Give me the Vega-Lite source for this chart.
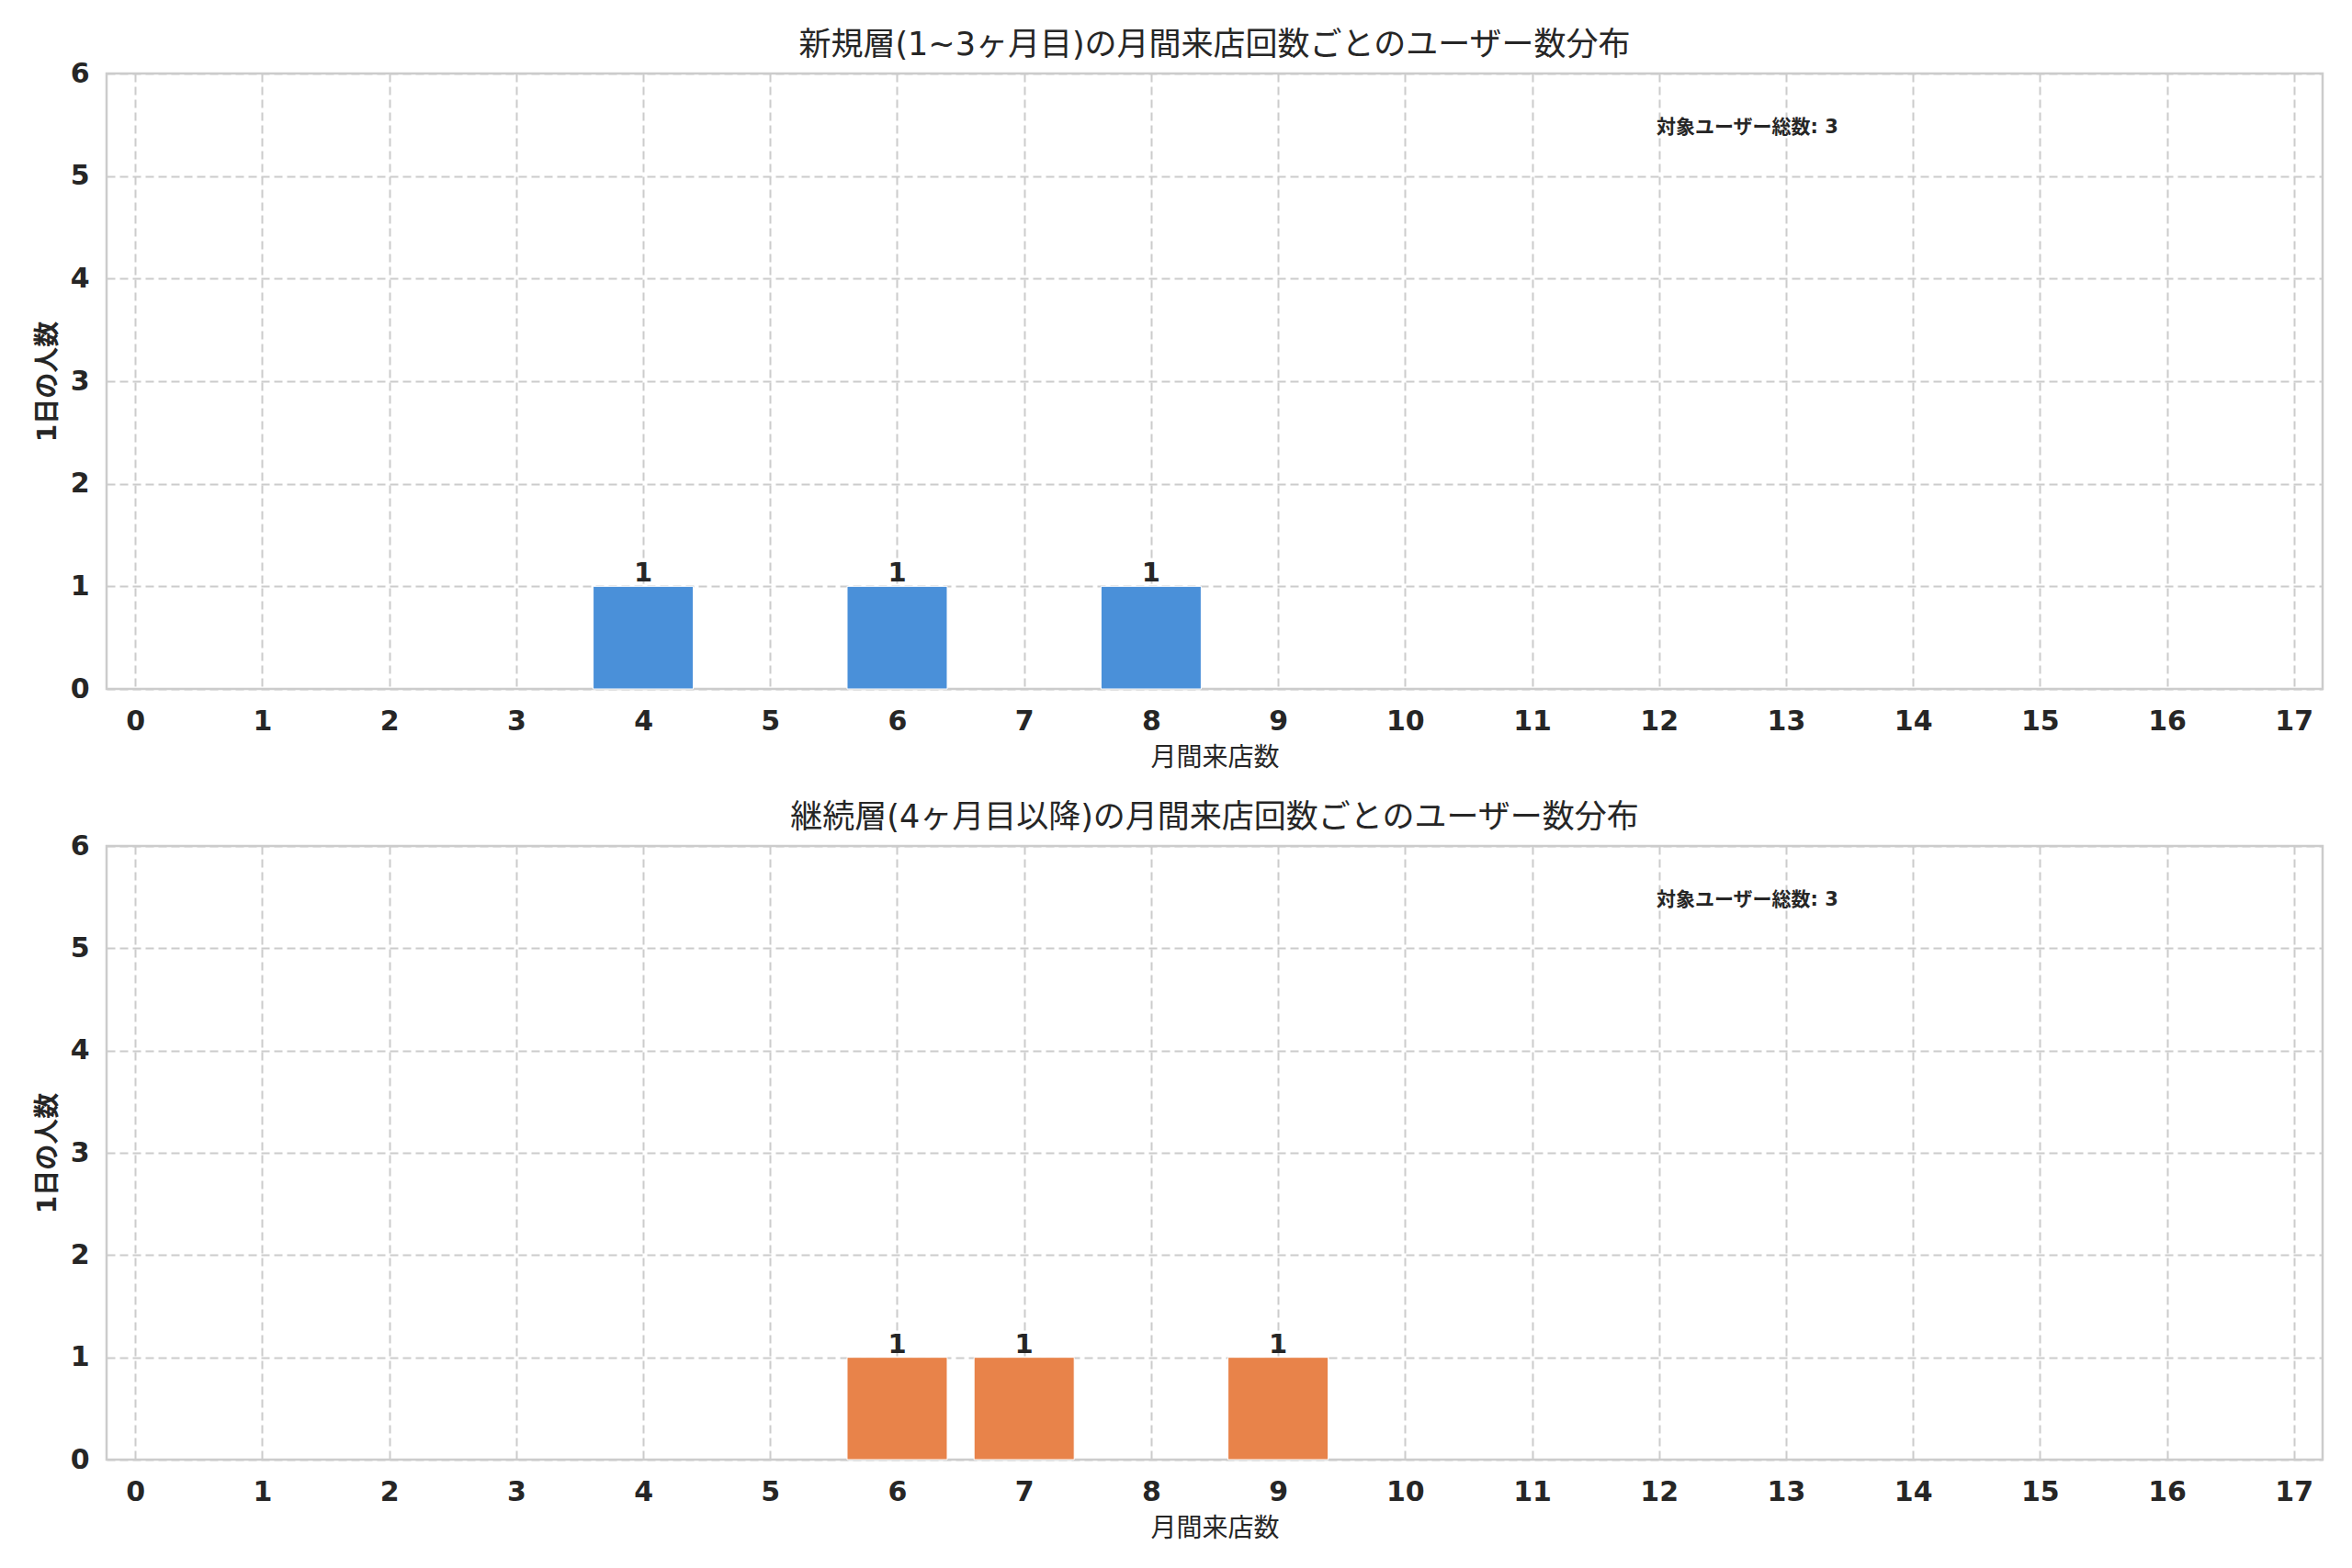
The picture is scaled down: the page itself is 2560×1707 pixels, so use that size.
{
  "$schema": "https://vega.github.io/schema/vega-lite/v6.json",
  "background": "white",
  "padding": {"left": 36, "top": 30, "right": 30, "bottom": 5},
  "config": {
    "font": "DejaVu Sans, Noto Sans CJK JP",
    "view": {"stroke": "#cccccc", "strokeWidth": 2.5},
    "axis": {
      "grid": true,
      "gridColor": "#cccccc",
      "gridDash": [9, 5],
      "gridWidth": 2,
      "domain": false,
      "ticks": false,
      "labelFont": "DejaVu Sans",
      "labelFontWeight": "bold",
      "labelFontSize": 30,
      "labelColor": "#262626",
      "titleColor": "#262626",
      "titleFont": "DejaVu Sans, Noto Sans CJK JP",
      "titleFontSize": 28
    },
    "axisX": {"labelPadding": 20, "titlePadding": 11, "titleFontWeight": "normal"},
    "axisY": {"labelPadding": 19, "titlePadding": 10, "titleFontWeight": "bold"},
    "title": {"fontSize": 35, "fontWeight": "normal", "color": "#262626", "offset": -2, "font": "DejaVu Sans, Noto Sans CJK JP"}
  },
  "datasets": {
    "bars": [
      {"group": "新規層", "value": 4, "count": 1},
      {"group": "新規層", "value": 6, "count": 1},
      {"group": "新規層", "value": 8, "count": 1},
      {"group": "継続層", "value": 6, "count": 1},
      {"group": "継続層", "value": 7, "count": 1},
      {"group": "継続層", "value": 9, "count": 1}
    ],
    "notes": [
      {"group": "新規層", "label": "対象ユーザー総数: 3"},
      {"group": "継続層", "label": "対象ユーザー総数: 3"}
    ]
  },
  "spacing": 30,
  "vconcat": [
    {
      "title": {"text": "新規層(1~3ヶ月目)の月間来店回数ごとのユーザー数分布"},
      "width": 2412,
      "height": 670,
      "layer": [
        {
          "data": {"name": "bars"},
          "transform": [{"filter": "datum.group === '新規層'"}],
          "mark": {"type": "bar", "width": 109, "color": "#4a90d9", "stroke": "white", "strokeWidth": 1},
          "encoding": {
            "x": {"field": "value", "type": "quantitative", "scale": {"domain": [-0.19, 17.19], "nice": false, "zero": false},
                  "axis": {"values": [0,1,2,3,4,5,6,7,8,9,10,11,12,13,14,15,16,17], "format": "d", "title": "月間来店数"}},
            "y": {"field": "count", "type": "quantitative", "scale": {"domain": [0, 6], "nice": false},
                  "axis": {"values": [0,1,2,3,4,5,6], "format": "d", "title": "1日の人数"}}
          }
        },
        {
          "data": {"name": "bars"},
          "transform": [{"filter": "datum.group === '新規層'"}],
          "mark": {"type": "text", "baseline": "bottom", "align": "center", "fontWeight": "bold", "fontSize": 29, "color": "#262626", "font": "DejaVu Sans", "dy": 1},
          "encoding": {
            "x": {"field": "value", "type": "quantitative"},
            "y": {"field": "count", "type": "quantitative"},
            "text": {"field": "count", "type": "quantitative"}
          }
        },
        {
          "data": {"name": "notes"},
          "transform": [{"filter": "datum.group === '新規層'"}],
          "mark": {"type": "text", "align": "left", "baseline": "middle", "fontWeight": "bold", "fontSize": 21, "color": "#262626"},
          "encoding": {
            "x": {"datum": 11.98, "type": "quantitative"},
            "y": {"datum": 5.47, "type": "quantitative"},
            "text": {"field": "label"}
          }
        }
      ]
    },
    {
      "title": {"text": "継続層(4ヶ月目以降)の月間来店回数ごとのユーザー数分布"},
      "width": 2412,
      "height": 668,
      "layer": [
        {
          "data": {"name": "bars"},
          "transform": [{"filter": "datum.group === '継続層'"}],
          "mark": {"type": "bar", "width": 109, "color": "#e8834a", "stroke": "white", "strokeWidth": 1},
          "encoding": {
            "x": {"field": "value", "type": "quantitative", "scale": {"domain": [-0.19, 17.19], "nice": false, "zero": false},
                  "axis": {"values": [0,1,2,3,4,5,6,7,8,9,10,11,12,13,14,15,16,17], "format": "d", "title": "月間来店数"}},
            "y": {"field": "count", "type": "quantitative", "scale": {"domain": [0, 6], "nice": false},
                  "axis": {"values": [0,1,2,3,4,5,6], "format": "d", "title": "1日の人数"}}
          }
        },
        {
          "data": {"name": "bars"},
          "transform": [{"filter": "datum.group === '継続層'"}],
          "mark": {"type": "text", "baseline": "bottom", "align": "center", "fontWeight": "bold", "fontSize": 29, "color": "#262626", "font": "DejaVu Sans", "dy": 1},
          "encoding": {
            "x": {"field": "value", "type": "quantitative"},
            "y": {"field": "count", "type": "quantitative"},
            "text": {"field": "count", "type": "quantitative"}
          }
        },
        {
          "data": {"name": "notes"},
          "transform": [{"filter": "datum.group === '継続層'"}],
          "mark": {"type": "text", "align": "left", "baseline": "middle", "fontWeight": "bold", "fontSize": 21, "color": "#262626"},
          "encoding": {
            "x": {"datum": 11.98, "type": "quantitative"},
            "y": {"datum": 5.47, "type": "quantitative"},
            "text": {"field": "label"}
          }
        }
      ]
    }
  ]
}
